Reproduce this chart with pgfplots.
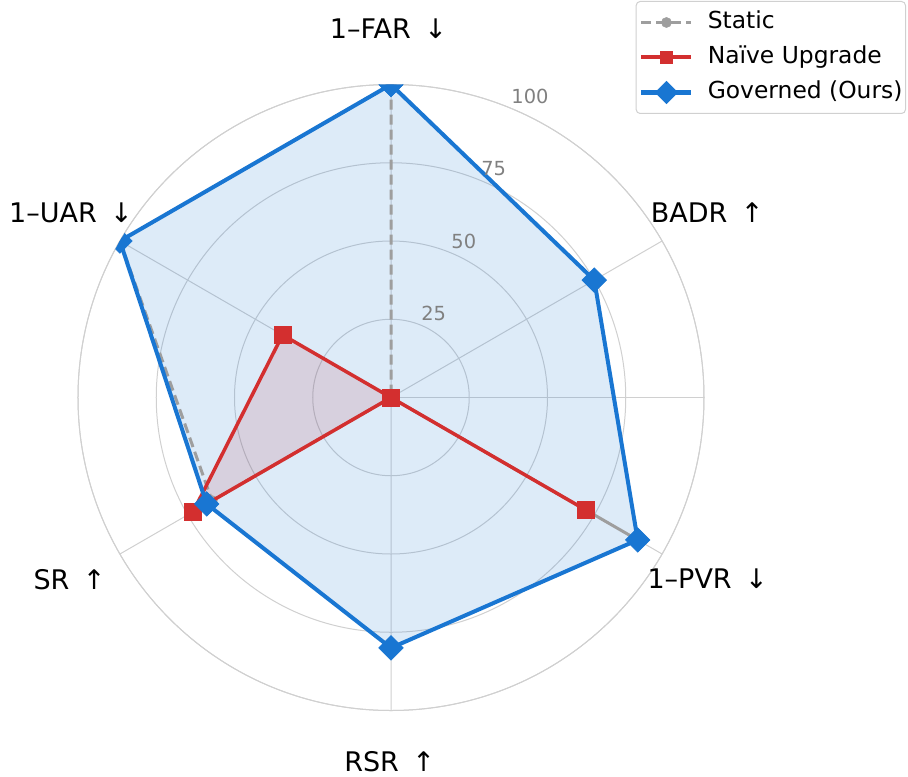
\documentclass[border=0pt]{standalone}
\usepackage{pgfplots}
\pgfplotsset{compat=1.18}
\usepgfplotslibrary{polar}
\usepackage{fontspec}
\setmainfont{DejaVu Sans}
\definecolor{cblue}{RGB}{25,118,210}
\definecolor{cred}{RGB}{211,47,47}
\definecolor{cgray}{RGB}{158,158,158}
\definecolor{cgrid}{RGB}{208,208,208}
\definecolor{ctick}{RGB}{128,128,128}

\begin{document}
\begin{tikzpicture}
\useasboundingbox (-195.5pt,-189.25pt) rectangle (258.5pt,198.75pt);
\begin{polaraxis}[
  at={(0,0)}, anchor=center,
  scale only axis, width=313pt, height=313pt,
  xmin=0, xmax=360, ymin=0, ymax=100,
  xtick={30,90,150,210,270,330}, xticklabels={},
  ytick={25,50,75,100}, yticklabels={},
  major tick length=0pt,
  grid=major,
  major grid style={draw=cgrid, line width=0.5pt},
  axis line style={draw=cgrid, line width=0.5pt},
  clip marker paths=true,
  legend cell align=left,
  legend image code/.code={\draw[mark repeat=2,mark phase=2,#1] plot coordinates {(0pt,0pt) (12.5pt,0pt) (25pt,0pt)};},
  legend style={at={(1.3227,1.1334)}, anchor=north east,
    draw=cgrid, line width=0.5pt, rounded corners=2pt, fill=white,
    font=\fontsize{11.7pt}{14pt}\selectfont,
    inner xsep=1.5pt, inner ysep=2.5pt,
    nodes={inner xsep=0pt, inner ysep=2pt, text height=9pt, text depth=3pt},
    column sep=7pt, row sep=1.5pt},
]
% fills first
\addplot[forget plot, draw=none, fill=cred, fill opacity=0.15]
  coordinates {(90,0) (30,0) (-30,72) (-90,0) (210,73) (150,40) (90,0)};
\addplot[forget plot, draw=none, fill=cblue, fill opacity=0.15]
  coordinates {(90,100) (30,75) (-30,91) (-90,80) (210,68) (150,100) (90,100)};
% Static
\addplot[cgray, line width=1.5pt, dash pattern=on 5pt off 2.5pt,
  mark=*, mark size=2.6pt, mark options={solid, fill=cgray, draw=cgray, line width=0.3pt},
  legend image post style={mark size=2.5pt, line width=1.7pt}]
  coordinates {(90,100) (30,0) (-30,90) (-90,0) (210,66) (150,100) (90,100)};
\addlegendentry{Static}
% Naive line
\addplot[cred, line width=1.75pt,
  mark=square*, mark size=4.2pt, mark options={solid, fill=cred, draw=cred, line width=0.4pt},
  legend image post style={mark size=3pt, line width=2pt}]
  coordinates {(90,0) (30,0) (-30,72) (-90,0) (210,73) (150,40) (90,0)};
\addlegendentry{Naïve Upgrade}
% Governed line
\addplot[cblue, line width=2pt,
  mark=square*, mark size=4.3pt, mark options={solid, rotate=45, fill=cblue, draw=cblue, line width=0.4pt},
  legend image post style={mark size=3.9pt, line width=2.3pt}]
  coordinates {(90,100) (30,75) (-30,91) (-90,80) (210,68) (150,100) (90,100)};
\addlegendentry{Governed (Ours)}
\end{polaraxis}
% radial tick labels
\begin{scope}[every node/.style={font=\fontsize{9.7pt}{11pt}\selectfont, text=ctick, inner sep=0pt, anchor=center}]
\node at (69.5pt,150.75pt) {100};
\node at (51.35pt,114.6pt) {75};
\node at (36.4pt,78.25pt) {50};
\node at (21.35pt,42.1pt) {25};
\end{scope}
% angular labels
\begin{scope}[every node/.style={font=\fontsize{13.5pt}{16pt}\selectfont, inner sep=0pt, anchor=base}]
\node at (-1.25pt,179.6pt) {1–FAR\hspace{0.5em}↓};
\node at (158.1pt,87.6pt) {BADR\hspace{0.5em}↑};
\node at (158.35pt,-95.4pt) {1–PVR\hspace{0.5em}↓};
\node at (-0.65pt,-187.1pt) {RSR\hspace{0.5em}↑};
\node at (-160.7pt,-95.75pt) {SR\hspace{0.5em}↑};
\node at (-160pt,87.6pt) {1–UAR\hspace{0.5em}↓};
\end{scope}
\end{tikzpicture}
\end{document}
